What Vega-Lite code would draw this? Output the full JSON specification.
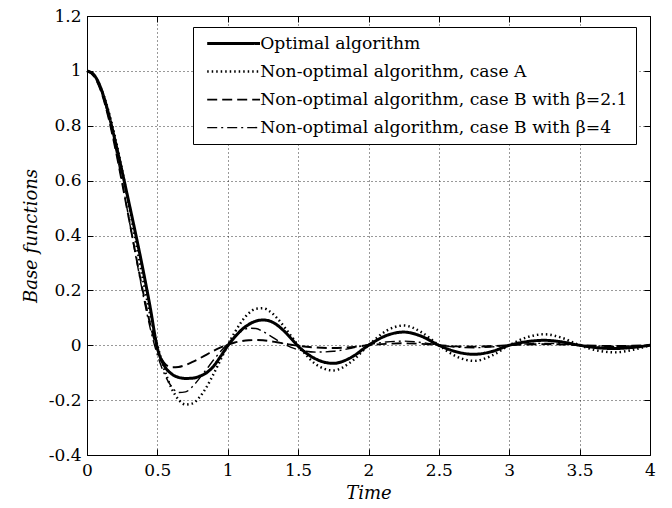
{
  "$schema": "https://vega.github.io/schema/vega-lite/v6.json",
  "autosize": {"type": "none"},
  "width": 563,
  "height": 439,
  "padding": {"left": 87, "top": 16, "right": 22, "bottom": 53},
  "background": "white",
  "config": {
    "view": {"stroke": "black", "strokeWidth": 1},
    "font": "DejaVu Serif",
    "axis": {
      "labelFont": "DejaVu Serif",
      "labelFontSize": 17,
      "labelColor": "black",
      "titleFont": "DejaVu Serif",
      "titleFontSize": 18,
      "titleFontStyle": "italic",
      "titleFontWeight": "normal",
      "titleColor": "black",
      "domainColor": "black",
      "tickColor": "black",
      "gridColor": "black",
      "gridDash": [1, 3],
      "gridOpacity": 0.8,
      "gridWidth": 1
    },
    "legend": {
      "labelFont": "DejaVu Serif"
    }
  },
  "data": {
    "values": [
      {"t": 0, "opt": 1, "A": 1, "B21": 1, "B4": 1},
      {"t": 0.05, "opt": 0.985, "A": 0.984, "B21": 0.98, "B4": 0.982},
      {"t": 0.1, "opt": 0.935, "A": 0.936, "B21": 0.925, "B4": 0.928},
      {"t": 0.15, "opt": 0.85, "A": 0.858, "B21": 0.835, "B4": 0.84},
      {"t": 0.2, "opt": 0.745, "A": 0.757, "B21": 0.72, "B4": 0.725},
      {"t": 0.25, "opt": 0.632, "A": 0.637, "B21": 0.59, "B4": 0.595},
      {"t": 0.3, "opt": 0.515, "A": 0.505, "B21": 0.455, "B4": 0.455},
      {"t": 0.35, "opt": 0.395, "A": 0.368, "B21": 0.32, "B4": 0.315},
      {"t": 0.4, "opt": 0.27, "A": 0.234, "B21": 0.19, "B4": 0.18},
      {"t": 0.45, "opt": 0.135, "A": 0.109, "B21": 0.075, "B4": 0.06},
      {"t": 0.5, "opt": -0.01, "A": 0, "B21": -0.015, "B4": -0.035},
      {"t": 0.55, "opt": -0.075, "A": -0.089, "B21": -0.065, "B4": -0.105},
      {"t": 0.6, "opt": -0.104, "A": -0.156, "B21": -0.08, "B4": -0.15},
      {"t": 0.65, "opt": -0.117, "A": -0.198, "B21": -0.079, "B4": -0.172},
      {"t": 0.7, "opt": -0.121, "A": -0.216, "B21": -0.072, "B4": -0.17},
      {"t": 0.75, "opt": -0.12, "A": -0.212, "B21": -0.061, "B4": -0.15},
      {"t": 0.8, "opt": -0.113, "A": -0.189, "B21": -0.048, "B4": -0.12},
      {"t": 0.85, "opt": -0.1, "A": -0.152, "B21": -0.034, "B4": -0.087},
      {"t": 0.9, "opt": -0.076, "A": -0.104, "B21": -0.02, "B4": -0.053},
      {"t": 0.95, "opt": -0.04, "A": -0.052, "B21": -0.008, "B4": -0.022},
      {"t": 1.0, "opt": -0.002, "A": 0, "B21": 0.002, "B4": 0.006},
      {"t": 1.05, "opt": 0.03, "A": 0.047, "B21": 0.01, "B4": 0.032},
      {"t": 1.1, "opt": 0.057, "A": 0.087, "B21": 0.015, "B4": 0.052},
      {"t": 1.15, "opt": 0.076, "A": 0.117, "B21": 0.018, "B4": 0.062},
      {"t": 1.2, "opt": 0.088, "A": 0.133, "B21": 0.019, "B4": 0.061},
      {"t": 1.25, "opt": 0.092, "A": 0.135, "B21": 0.018, "B4": 0.05},
      {"t": 1.3, "opt": 0.088, "A": 0.123, "B21": 0.015, "B4": 0.035},
      {"t": 1.35, "opt": 0.074, "A": 0.099, "B21": 0.011, "B4": 0.019},
      {"t": 1.4, "opt": 0.052, "A": 0.068, "B21": 0.006, "B4": 0.004},
      {"t": 1.45, "opt": 0.025, "A": 0.034, "B21": 0.002, "B4": -0.008},
      {"t": 1.5, "opt": -0.003, "A": 0, "B21": -0.002, "B4": -0.016},
      {"t": 1.625, "opt": -0.05, "A": -0.069, "B21": -0.008, "B4": -0.025},
      {"t": 1.75, "opt": -0.066, "A": -0.092, "B21": -0.01, "B4": -0.022},
      {"t": 1.875, "opt": -0.045, "A": -0.061, "B21": -0.007, "B4": -0.011},
      {"t": 2.0, "opt": 0, "A": 0, "B21": 0, "B4": 0.002},
      {"t": 2.125, "opt": 0.035, "A": 0.052, "B21": 0.005, "B4": 0.012},
      {"t": 2.25, "opt": 0.048, "A": 0.072, "B21": 0.007, "B4": 0.015},
      {"t": 2.375, "opt": 0.033, "A": 0.048, "B21": 0.005, "B4": 0.01},
      {"t": 2.5, "opt": 0, "A": 0, "B21": 0, "B4": 0.001},
      {"t": 2.625, "opt": -0.024, "A": -0.041, "B21": -0.004, "B4": -0.007},
      {"t": 2.75, "opt": -0.033, "A": -0.057, "B21": -0.005, "B4": -0.009},
      {"t": 2.875, "opt": -0.023, "A": -0.038, "B21": -0.003, "B4": -0.006},
      {"t": 3.0, "opt": 0, "A": 0, "B21": 0, "B4": 0},
      {"t": 3.125, "opt": 0.013, "A": 0.029, "B21": 0.003, "B4": 0.005},
      {"t": 3.25, "opt": 0.018, "A": 0.04, "B21": 0.004, "B4": 0.007},
      {"t": 3.375, "opt": 0.012, "A": 0.027, "B21": 0.003, "B4": 0.005},
      {"t": 3.5, "opt": 0, "A": 0, "B21": 0, "B4": 0},
      {"t": 3.625, "opt": -0.009, "A": -0.019, "B21": -0.002, "B4": -0.003},
      {"t": 3.75, "opt": -0.012, "A": -0.026, "B21": -0.003, "B4": -0.004},
      {"t": 3.875, "opt": -0.008, "A": -0.017, "B21": -0.002, "B4": -0.003},
      {"t": 4.0, "opt": 0, "A": 0, "B21": 0, "B4": 0}
    ]
  },
  "transform": [{"fold": ["opt", "A", "B21", "B4"], "as": ["s", "v"]}],
  "layer": [
    {
      "mark": {"type": "line", "interpolate": "monotone", "color": "black"},
      "encoding": {
        "x": {
          "field": "t", "type": "quantitative",
          "scale": {"domain": [0, 4], "nice": false, "zero": false},
          "axis": {
            "values": [0, 0.5, 1, 1.5, 2, 2.5, 3, 3.5, 4],
            "labelExpr": "format(datum.value, '~g')",
            "title": "Time", "titleY": 38, "titleBaseline": "middle",
            "tickSize": -6, "labelPadding": 13, "labelFlush": false,
            "grid": true, "domain": false
          }
        },
        "y": {
          "field": "v", "type": "quantitative",
          "scale": {"domain": [-0.4, 1.2], "nice": false, "zero": false},
          "axis": {
            "values": [-0.4, -0.2, 0, 0.2, 0.4, 0.6, 0.8, 1, 1.2],
            "labelExpr": "datum.value < 0 ? '-' + format(-datum.value, '~g') : format(datum.value, '~g')",
            "title": "Base functions", "titleX": -56, "titleY": 219.5, "titleAngle": -90,
            "titleAlign": "center", "titleBaseline": "middle",
            "tickSize": -6, "labelPadding": 12, "labelFlush": false,
            "grid": true, "domain": false
          }
        },
        "strokeDash": {
          "field": "s", "type": "nominal",
          "scale": {"domain": ["opt", "A", "B21", "B4"], "range": [[1, 0], [1.5, 3], [10, 5], [10, 4, 2, 4]]},
          "legend": {
            "title": null, "orient": "none", "legendX": 106, "legendY": 11,
            "fillColor": "white", "strokeColor": "black", "padding": 8,
            "symbolType": "M-4.8,0H4.8", "symbolSize": 121, "symbolOffset": 24,
            "symbolStrokeColor": "black", "symbolFillColor": "transparent",
            "labelOffset": 18, "labelFontSize": 17.2,
            "labelColor": "black", "labelLimit": 0, "rowPadding": 10,
            "labelExpr": "datum.label == 'opt' ? 'Optimal algorithm' : datum.label == 'A' ? 'Non-optimal algorithm, case A' : datum.label == 'B21' ? 'Non-optimal algorithm, case B with β=2.1' : 'Non-optimal algorithm, case B with β=4'"
          }
        },
        "strokeWidth": {
          "field": "s", "type": "nominal",
          "scale": {"domain": ["opt", "A", "B21", "B4"], "range": [3, 1.4, 2.2, 2.2]},
          "legend": {
            "title": null, "orient": "none", "legendX": 106, "legendY": 11,
            "fillColor": "white", "strokeColor": "black", "padding": 8,
            "symbolType": "M-4.8,0H4.8", "symbolSize": 121, "symbolOffset": 24,
            "symbolStrokeColor": "black", "symbolFillColor": "transparent",
            "labelOffset": 18, "labelFontSize": 17.2,
            "labelColor": "black", "labelLimit": 0, "rowPadding": 10,
            "labelExpr": "datum.label == 'opt' ? 'Optimal algorithm' : datum.label == 'A' ? 'Non-optimal algorithm, case A' : datum.label == 'B21' ? 'Non-optimal algorithm, case B with β=2.1' : 'Non-optimal algorithm, case B with β=4'"
          }
        }
      }
    },
    {
      "mark": {"type": "line", "opacity": 0},
      "encoding": {
        "x": {
          "field": "t", "type": "quantitative",
          "axis": {"orient": "top", "values": [0, 0.5, 1, 1.5, 2, 2.5, 3, 3.5, 4], "labels": false, "title": null, "grid": false, "domain": false, "tickSize": -6}
        },
        "y": {
          "field": "v", "type": "quantitative",
          "axis": {"orient": "right", "values": [-0.4, -0.2, 0, 0.2, 0.4, 0.6, 0.8, 1, 1.2], "labels": false, "title": null, "grid": false, "domain": false, "tickSize": -6}
        },
        "detail": {"field": "s", "type": "nominal"}
      }
    }
  ],
  "resolve": {"axis": {"x": "independent", "y": "independent"}}
}
